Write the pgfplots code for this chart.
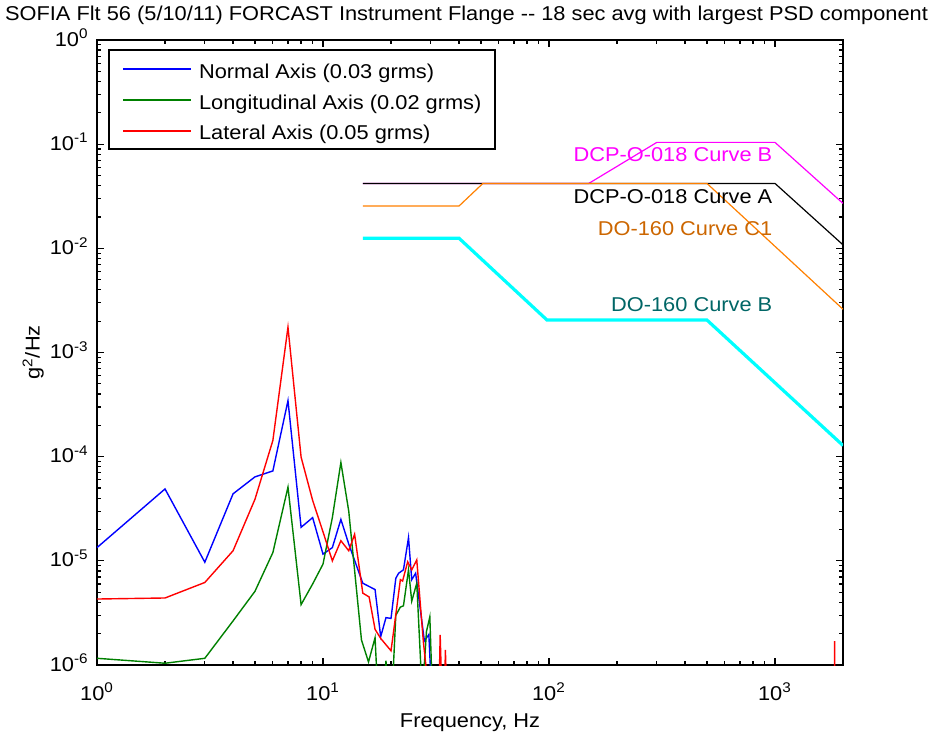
\documentclass[border=0pt]{standalone}
\usepackage{fontspec}
\setmainfont[FakeStretch=1.09]{Liberation Sans}
\usepackage{pgfplots}
\pgfplotsset{compat=1.18}
\definecolor{mblue}{rgb}{0,0,1}
\definecolor{mred}{rgb}{1,0,0}
\definecolor{mgreen}{rgb}{0,0.5,0}
\definecolor{lorange}{rgb}{1,0.5,0}
\definecolor{torange}{rgb}{0.8,0.4,0}
\definecolor{tteal}{rgb}{0,0.4,0.4}
\definecolor{mmag}{rgb}{1,0,1}
\definecolor{mcyan}{rgb}{0,1,1}
\begin{document}
\begin{tikzpicture}
\path[use as bounding box] (-48.5pt,-36.5pt) rectangle (416.5pt,332.5pt);
\begin{axis}[
  scale only axis, width=373pt, height=312.5pt,
  at={(0pt,0pt)}, anchor=south west,
  xmode=log, ymode=log,
  xmin=1, xmax=2000, ymin=1e-6, ymax=1,
  font=\fontsize{10}{12}\selectfont,
  xtick={1,10,100,1000},
  xticklabels={10\textsuperscript{0},10\textsuperscript{1},10\textsuperscript{2},10\textsuperscript{3}},
  ytick={1e-6,1e-5,1e-4,1e-3,1e-2,1e-1,1},
  yticklabels={10\textsuperscript{-6},10\textsuperscript{-5},10\textsuperscript{-4},10\textsuperscript{-3},10\textsuperscript{-2},10\textsuperscript{-1},10\textsuperscript{0}},
  minor xtick={2,3,4,5,6,7,8,9,20,30,40,50,60,70,80,90,200,300,400,500,600,700,800,900,2000},
  minor ytick={2e-6,3e-6,4e-6,5e-6,6e-6,7e-6,8e-6,9e-6,2e-5,3e-5,4e-5,5e-5,6e-5,7e-5,8e-5,9e-5,2e-4,3e-4,4e-4,5e-4,6e-4,7e-4,8e-4,9e-4,2e-3,3e-3,4e-3,5e-3,6e-3,7e-3,8e-3,9e-3,2e-2,3e-2,4e-2,5e-2,6e-2,7e-2,8e-2,9e-2,0.2,0.3,0.4,0.5,0.6,0.7,0.8,0.9},
  tick align=inside, tick pos=both,
  major tick length=3.5pt, minor tick length=2pt,
  every tick/.style={black, line width=0.6pt},
  axis line style={line width=1pt},
  xticklabel style={anchor=base, yshift=-17.5pt, inner sep=0pt},
  yticklabel style={anchor=base east, xshift=-4pt, yshift=-3pt, inner sep=0pt},
  xlabel={Frequency, Hz},
  ylabel={g\textsuperscript{2}/Hz},
  xlabel style={at={(axis description cs:0.5,-0.0992)}, anchor=base},
  ylabel style={at={(axis description cs:-0.077,0.5)}, anchor=base},
  title={SOFIA Flt 56 (5/10/11) FORCAST Instrument Flange -{}- 18 sec avg with largest PSD component},
  title style={at={(axis description cs:0.4953,1)}, anchor=base, yshift=3.6pt, inner sep=0pt},
  legend style={at={(rel axis cs:0.0151,0.985)}, anchor=north west, draw=black, line width=0.75pt,
    inner xsep=6.7pt, inner ysep=4.6pt, row sep=5.9pt, column sep=3.35pt,
    nodes={inner sep=0pt, text height=9.5pt, text depth=0pt, anchor=base west}},
  legend cell align=left,
  legend image code/.code={\draw[#1, line width=1pt] (0pt,4.6pt) -- (34pt,4.6pt);},
]
\addplot[color=mblue, line width=0.7pt] coordinates {
(1,1.34e-5)(2,4.9e-5)(3,9.7e-6)(4,4.4e-5)(5,6.4e-5)(6,7.3e-5)(7,3.45e-4)(8,2.1e-5)(9,2.6e-5)(10,1.16e-5)(11,1.34e-5)(12,2.5e-5)(13,1.45e-5)(15,6.1e-6)(17,5.3e-6)(18,1.87e-6)(19,2.85e-6)(20,2.8e-6)(21,6.8e-6)(21.6,7.6e-6)(22.7,8.2e-6)(23.9,1.67e-5)(24.7,6.6e-6)(25.7,7.6e-6)(28.1,1.7e-6)(29.4,1.96e-6)(30.3,5e-7)};
\addlegendentry{Normal Axis (0.03 grms)}
\addplot[color=mgreen, line width=0.7pt] coordinates {
(1,1.16e-6)(2,1.04e-6)(3,1.16e-6)(4,2.65e-6)(5,5.1e-6)(6,1.2e-5)(7,5.1e-5)(8,3.8e-6)(9,6.0e-6)(10,9.3e-6)(11,2.6e-5)(12,8.8e-5)(13,3.0e-5)(14.8,1.74e-6)(15.9,1.07e-6)(17,1.83e-6)(17.5,5e-7)(18.5,5e-7)(19,1.1e-6)(19.4,5e-7)(20.2,5e-7)(21,3.0e-6)(22,3.6e-6)(22.7,3.7e-6)(23.9,8.2e-6)(24.7,4.1e-6)(26,6.1e-6)(27.5,5e-7)(28.7,2.1e-6)(29.7,2.9e-6)(30.5,5e-7)};
\addlegendentry{Longitudinal Axis (0.02 grms)}
\addplot[color=mred, line width=0.7pt] coordinates {
(1,4.3e-6)(2,4.4e-6)(3,6.2e-6)(4,1.25e-5)(5,3.9e-5)(6,1.43e-4)(7,1.75e-3)(8,9.9e-5)(9,3.8e-5)(10,1.9e-5)(11,1.0e-5)(12,1.56e-5)(13,1.25e-5)(13.8,1.8e-5)(15,4.9e-6)(16,4.5e-6)(17,2.2e-6)(18,1.8e-6)(20,1.37e-6)(21,3.05e-6)(22,6.6e-6)(22.5,6.4e-6)(23.7,9.8e-6)(24.7,8.2e-6)(26,1.02e-5)(27.8,1.68e-6)(29.5,5e-7)(32.6,5e-7)(33,1.95e-6)(33.6,5e-7)(34.5,5e-7)(34.8,1.4e-6)(35.3,5e-7)(1830,5e-7)(1836,1.7e-6)(1842,5e-7)};
\addlegendentry{Lateral Axis (0.05 grms)}
\addplot[color=mmag, line width=0.6pt, forget plot] coordinates {(15,0.042)(150,0.042)(300,0.104)(1000,0.104)(2000,0.027)};
\addplot[color=black, line width=0.6pt, forget plot] coordinates {(15,0.042)(1000,0.042)(2000,0.0108)};
\addplot[color=lorange, line width=0.6pt, forget plot] coordinates {(15,0.0255)(40,0.0255)(51,0.042)(500,0.042)(2000,0.0026)};
\addplot[color=mcyan, line width=1.6pt, forget plot] coordinates {(15,0.0125)(40,0.0125)(98,0.00205)(500,0.00205)(2000,0.000128)};
\node[anchor=base east, text=mmag, inner sep=0pt] at (axis cs:977,0.068) {DCP-O-018 Curve B};
\node[anchor=base east, text=black, inner sep=0pt] at (axis cs:977,0.0267) {DCP-O-018 Curve A};
\node[anchor=base east, text=torange, inner sep=0pt] at (axis cs:977,0.0134) {DO-160 Curve C1};
\node[anchor=base east, text=tteal, inner sep=0pt] at (axis cs:977,0.0025) {DO-160 Curve B};
\end{axis}
\end{tikzpicture}
\end{document}
